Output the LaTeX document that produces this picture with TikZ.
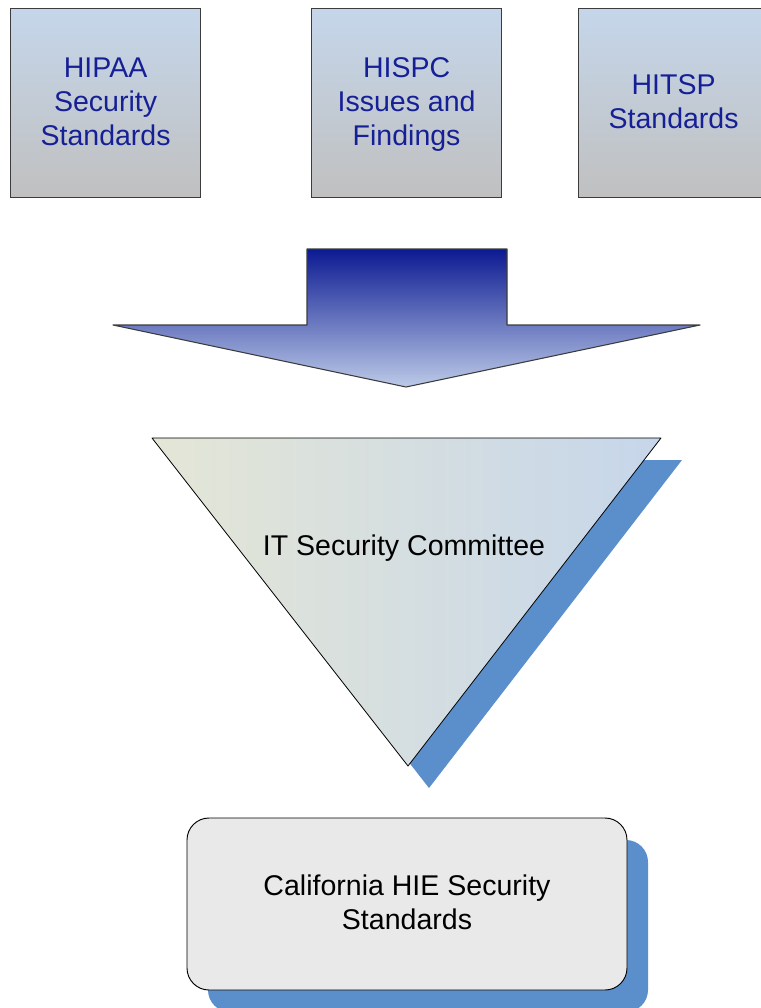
\documentclass[tikz,border=0pt]{standalone}
\usepackage{fontspec}
\setmainfont{Liberation Sans}
\definecolor{boxtop}{RGB}{197,214,234}
\definecolor{boxbot}{RGB}{192,192,192}
\definecolor{labelblue}{RGB}{22,32,150}
\definecolor{arrowtop}{RGB}{12,26,146}
\definecolor{arrowbot}{RGB}{188,202,232}
\definecolor{triLeft}{RGB}{228,230,214}
\definecolor{triRight}{RGB}{198,214,234}
\definecolor{shadowblue}{RGB}{91,143,204}
\definecolor{resultfill}{RGB}{233,233,233}
\definecolor{edgegray}{RGB}{60,60,60}
\tikzset{
  source/.style={draw=edgegray, line width=0.9pt, top color=boxtop, bottom color=boxbot,
    minimum width=190*0.75pt, minimum height=189*0.75pt, inner sep=0pt, anchor=north west},
  srclabel/.style={text=labelblue, align=center, font=\fontsize{21.4pt}{25.5pt}\selectfont},
  blacklabel/.style={text=black, align=center, font=\fontsize{21.4pt}{25.5pt}\selectfont},
}
\begin{document}
\begin{tikzpicture}[x=0.75pt, y=-0.75pt]
\useasboundingbox (0,0) rectangle (761,1008);
\clip (0,0) rectangle (761,1008);
\fill[white] (0,0) rectangle (761,1008);

% input sources
\node[source] (hipaa) at (10,8) {};
\node[srclabel] at ([yshift=1.5*0.75pt]hipaa.center) {HIPAA\\Security\\Standards};
\node[source] (hispc) at (311,8) {};
\node[srclabel] at ([yshift=-1.5*0.75pt]hispc.center) {HISPC\\Issues and\\Findings};
\node[source] (hitsp) at (578,8) {};
\node[srclabel] at ([yshift=1.5*0.75pt]hitsp.center) {HITSP\\Standards};

% block arrow pointing down
\shade[top color=arrowtop, bottom color=arrowbot, draw=edgegray, line width=0.8pt,
  line join=round]
  (307,249) -- (507,249) -- (507,325) -- (700,325) -- (406,387)
  -- (113,325) -- (307,325) -- cycle;

% committee triangle with its shadow
\fill[shadowblue] (173,460) -- (682,460) -- (429,788) -- cycle;
\shade[left color=triLeft, right color=triRight, draw=black, line width=0.6pt,
  line join=round]
  (152,438) -- (661,438) -- (408,766) -- cycle;
\node[blacklabel] (committee) at (404,548) {IT Security Committee};

% resulting standards
\fill[shadowblue, rounded corners=22*0.75pt] (208,840) rectangle (648,1012);
\node[draw=black, line width=0.7pt, fill=resultfill, rounded corners=22*0.75pt,
  minimum width=440*0.75pt, minimum height=172*0.75pt, inner sep=0pt] (result) at (407,904) {};
\node[blacklabel] at ([yshift=2*0.75pt]result.center) {California HIE Security\\Standards};
\end{tikzpicture}
\end{document}
